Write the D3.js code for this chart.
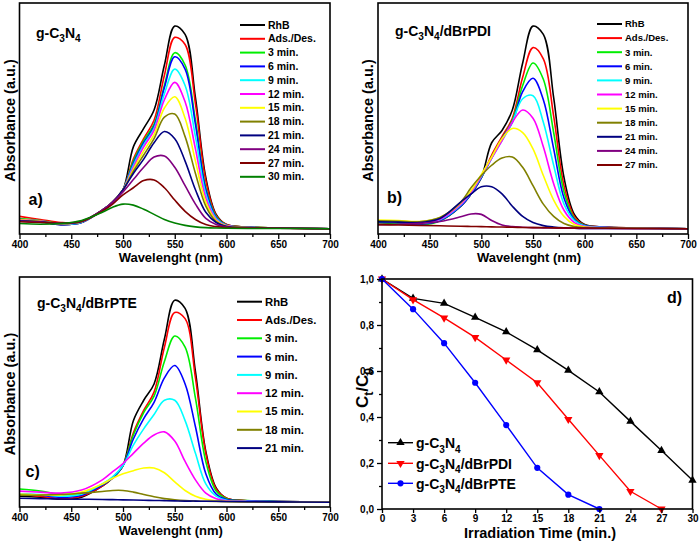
<!DOCTYPE html>
<html>
<head>
<meta charset="utf-8">
<script src="https://cdn.jsdelivr.net/npm/d3@7"></script>
<style>
  body { margin: 0; background: #fff; }
  svg { display: block; }
  text { font-family: "Liberation Sans", Arial, sans-serif; font-weight: bold; fill: #000; }
</style>
</head>
<body>
<svg id="chart" width="700" height="545"></svg>
<script>
// ---- data ----
const wavelengths = [400, 420, 440, 460, 480, 490, 500, 510, 520, 530, 540, 550, 560, 570, 580, 590, 600, 620, 650, 700];
const waveTicks = [400, 450, 500, 550, 600, 650, 700];
const waveMinor = [425, 475, 525, 575, 625, 675];

const labelsA = ["RhB", "Ads./Des.", "3 min.", "6 min.", "9 min.", "12 min.", "15 min.", "18 min.", "21 min.", "24 min.", "27 min.", "30 min."];
const specA = [
  [.045,.035,.020,.030,.090,.130,.190,.400,.490,.580,.800,.990,.950,.640,.250,.070,.020,.008,.004,0],
  [.060,.045,.030,.035,.090,.130,.190,.340,.440,.530,.750,.935,.900,.610,.235,.065,.020,.008,.004,0],
  [.050,.040,.025,.035,.090,.130,.190,.330,.430,.510,.700,.860,.800,.530,.200,.060,.018,.008,.004,0],
  [.045,.035,.020,.030,.090,.130,.190,.320,.420,.500,.690,.840,.780,.510,.190,.055,.017,.007,.004,0],
  [.040,.035,.022,.032,.090,.130,.190,.310,.410,.490,.660,.780,.700,.450,.170,.050,.016,.007,.004,0],
  [.045,.038,.024,.034,.090,.130,.190,.300,.400,.480,.630,.715,.620,.390,.150,.045,.015,.007,.004,0],
  [.042,.036,.024,.034,.090,.130,.190,.290,.380,.460,.590,.645,.540,.330,.130,.040,.013,.006,.003,0],
  [.040,.035,.025,.035,.090,.130,.190,.280,.360,.440,.545,.560,.450,.270,.110,.035,.012,.006,.003,0],
  [.038,.034,.025,.035,.090,.130,.190,.270,.340,.420,.475,.440,.330,.190,.080,.030,.010,.005,.003,0],
  [.036,.032,.026,.036,.090,.130,.180,.240,.300,.350,.355,.300,.210,.120,.050,.020,.008,.004,.002,0],
  [.034,.030,.027,.036,.085,.120,.165,.200,.235,.238,.200,.140,.085,.045,.020,.010,.005,.003,.002,0],
  [.025,.022,.025,.040,.080,.105,.120,.115,.095,.070,.045,.028,.016,.009,.005,.003,.002,.001,.001,0]
];

const labelsB = ["RhB", "Ads./Des.", "3 min.", "6 min.", "9 min.", "12 min.", "15 min.", "18 min.", "21 min.", "24 min.", "27 min."];
const specB = [
  [.030,.025,.020,.040,.110,.170,.250,.420,.480,.580,.810,.990,.950,.640,.250,.070,.020,.008,.004,0],
  [.035,.030,.022,.040,.110,.170,.250,.360,.450,.540,.740,.885,.830,.550,.210,.060,.018,.008,.004,0],
  [.030,.026,.018,.038,.110,.170,.250,.350,.440,.530,.700,.810,.730,.470,.180,.050,.017,.007,.004,0],
  [.034,.030,.022,.040,.110,.170,.250,.345,.440,.520,.670,.735,.630,.390,.150,.045,.015,.007,.004,0],
  [.036,.032,.026,.044,.115,.175,.255,.345,.430,.520,.635,.650,.520,.310,.120,.040,.013,.006,.003,0],
  [.038,.034,.028,.046,.118,.178,.258,.345,.430,.520,.580,.540,.400,.220,.090,.030,.010,.005,.003,0],
  [.042,.040,.035,.055,.125,.185,.265,.350,.440,.490,.470,.390,.260,.140,.060,.020,.008,.004,.002,0],
  [.038,.036,.034,.055,.130,.200,.260,.310,.345,.350,.300,.210,.120,.060,.025,.010,.005,.003,.002,0],
  [.034,.032,.030,.050,.130,.170,.205,.205,.170,.110,.060,.030,.015,.008,.004,.002,.001,.001,.001,0],
  [.020,.022,.026,.035,.058,.072,.070,.040,.018,.010,.007,.005,.004,.003,.002,.002,.001,.001,0,0],
  [.020,.018,.016,.014,.012,.011,.010,.009,.008,.007,.006,.005,.005,.004,.004,.003,.003,.002,.001,0]
];

const labelsC = ["RhB", "Ads./Des.", "3 min.", "6 min.", "9 min.", "12 min.", "15 min.", "18 min.", "21 min."];
const specC = [
  [.030,.025,.015,.025,.080,.120,.180,.400,.500,.580,.800,.990,.950,.640,.250,.070,.020,.008,.004,0],
  [.040,.030,.018,.030,.080,.120,.180,.340,.450,.540,.760,.930,.900,.610,.240,.065,.020,.008,.004,0],
  [.065,.055,.040,.040,.085,.120,.180,.330,.440,.520,.690,.815,.760,.510,.200,.055,.018,.008,.004,0],
  [.040,.035,.025,.035,.085,.120,.180,.310,.410,.490,.610,.670,.580,.370,.140,.040,.014,.007,.004,0],
  [.042,.038,.030,.040,.090,.125,.180,.280,.360,.430,.500,.500,.400,.240,.090,.030,.010,.005,.003,0],
  [.055,.050,.045,.060,.110,.150,.190,.240,.290,.330,.345,.300,.200,.110,.045,.018,.008,.004,.002,0],
  [.040,.036,.036,.050,.090,.118,.140,.155,.168,.168,.145,.100,.058,.030,.015,.008,.005,.003,.002,0],
  [.035,.035,.038,.045,.053,.058,.058,.050,.038,.027,.018,.012,.008,.006,.005,.004,.003,.002,.001,0],
  [.020,.018,.016,.015,.014,.013,.012,.011,.010,.009,.008,.007,.006,.006,.005,.005,.004,.003,.002,0]
];

const times = [0, 3, 6, 9, 12, 15, 18, 21, 24, 27, 30];
const timeTicks = [0, 3, 6, 9, 12, 15, 18, 21, 24, 27, 30];
const ratioTicks = [0, 0.2, 0.4, 0.6, 0.8, 1.0];
const ratioMinor = [0.1, 0.3, 0.5, 0.7, 0.9];
const ratioC3N4 = [1.0, 0.916, 0.894, 0.833, 0.77, 0.692, 0.603, 0.509, 0.381, 0.254, 0.125];
const ratioPDI = [1.0, 0.91, 0.831, 0.746, 0.648, 0.549, 0.39, 0.233, 0.077, 0.0];
const ratioPTE = [1.0, 0.869, 0.721, 0.549, 0.365, 0.179, 0.0625, 0.0];

const palette = ["#000000", "#ff0000", "#00ee00", "#0000ff", "#00ffff", "#ff00ff",
                 "#ffff00", "#808000", "#000080", "#800080", "#800000", "#008000"];

const svg = d3.select("#chart");
const FONT_TICK = 10;

// text with chemical subscripts: parts = [[text, isSub], ...]
function chem(sel, parts, size) {
  let sub = false;
  parts.forEach(([t, s]) => {
    const span = sel.append("tspan").text(t).style("font-size", (s ? size * 0.72 : size) + "px");
    if (s && !sub) span.attr("dy", size * 0.3);
    if (!s && sub) span.attr("dy", -size * 0.3);
    sub = s;
  });
  return sel;
}

function styleTicks(a) {
  a.select(".domain").remove();
  a.selectAll(".tick line").attr("stroke-width", 1.3);
  a.selectAll(".tick text")
    .style("font-size", FONT_TICK + "px")
    .style("font-family", '"Liberation Sans", Arial, sans-serif')
    .style("font-weight", "bold")
    .attr("fill", "#000");
}

function drawSpectra(p) {
  const x = d3.scaleLinear().domain([400, 700]).range([p.left, p.right]);
  const y = d3.scaleLinear().domain(p.yDomain).range([p.bottom, p.top]);
  const g = svg.append("g");

  svg.append("clipPath").attr("id", "clip" + p.name)
    .append("rect")
    .attr("x", p.left).attr("y", p.top)
    .attr("width", p.right - p.left).attr("height", p.bottom - p.top);

  const line = d3.line()
    .x((d, i) => x(wavelengths[i]))
    .y(d => y(d))
    .curve(d3.curveCatmullRom.alpha(0.5));

  g.append("g").attr("clip-path", `url(#clip${p.name})`)
    .selectAll("path")
    .data(p.data)
    .join("path")
    .attr("fill", "none")
    .attr("stroke", (d, i) => palette[i])
    .attr("stroke-width", 1.6)
    .attr("d", line);

  // minor ticks
  g.append("g")
    .attr("transform", `translate(0,${p.bottom})`)
    .call(d3.axisBottom(x).tickValues(waveMinor).tickSize(3).tickFormat(""))
    .call(styleTicks);

  // major ticks + labels
  g.append("g")
    .attr("transform", `translate(0,${p.bottom})`)
    .call(d3.axisBottom(x).tickValues(waveTicks).tickSize(5).tickPadding(2))
    .call(styleTicks);

  // frame
  g.append("rect")
    .attr("x", p.left).attr("y", p.top)
    .attr("width", p.right - p.left).attr("height", p.bottom - p.top)
    .attr("fill", "none").attr("stroke", "#000").attr("stroke-width", 1.6);

  // axis titles
  g.append("text")
    .attr("x", (p.left + p.right) / 2 - 4)
    .attr("y", p.bottom + 28)
    .attr("text-anchor", "middle")
    .style("font-size", "13px")
    .text("Wavelenght (nm)");

  g.append("text")
    .attr("transform", `translate(${p.left - 5},${(p.top + p.bottom) / 2 + 2}) rotate(-90)`)
    .attr("text-anchor", "middle")
    .style("font-size", "14.5px")
    .text("Absorbance (a.u.)");

  // sample name
  chem(g.append("text").attr("x", p.titleX).attr("y", p.titleY),
       p.title, 14);

  // panel letter
  g.append("text")
    .attr("x", p.left + p.letterDx).attr("y", p.letterY)
    .style("font-size", "16px")
    .text(p.letter);

  // legend
  const leg = g.append("g");
  p.labels.forEach((name, i) => {
    const ly = p.legY + i * p.legDy;
    leg.append("line")
      .attr("x1", p.legX).attr("x2", p.legX + 25)
      .attr("y1", ly).attr("y2", ly)
      .attr("stroke", palette[i]).attr("stroke-width", 2);
    leg.append("text")
      .attr("x", p.legX + 28).attr("y", ly)
      .attr("dy", "0.35em")
      .style("font-size", p.legFont + "px")
      .text(name);
  });
}

drawSpectra({
  name: "a", left: 19.5, right: 330, top: 3, bottom: 234,
  yDomain: [-0.026, 1.103], data: specA, labels: labelsA,
  title: [["g-C", false], ["3", true], ["N", false], ["4", true]],
  titleX: 36, titleY: 38, letter: "a)", letterDx: 9, letterY: 205,
  legX: 240, legY: 25, legDy: 13.8, legFont: 10.5
});

drawSpectra({
  name: "b", left: 378, right: 688, top: 3, bottom: 234,
  yDomain: [-0.026, 1.103], data: specB, labels: labelsB,
  title: [["g-C", false], ["3", true], ["N", false], ["4", true], ["/dBrPDI", false]],
  titleX: 395, titleY: 36, letter: "b)", letterDx: 9, letterY: 203,
  legX: 597, legY: 24, legDy: 14.1, legFont: 9.5
});

drawSpectra({
  name: "c", left: 19.5, right: 330, top: 277, bottom: 507,
  yDomain: [-0.023, 1.104], data: specC, labels: labelsC,
  title: [["g-C", false], ["3", true], ["N", false], ["4", true], ["/dBrPTE", false]],
  titleX: 37, titleY: 308, letter: "c)", letterDx: 6, letterY: 477,
  legX: 237, legY: 301.7, legDy: 18.3, legFont: 11.3
});

// ---- panel d: Ct/C0 vs time ----
(function () {
  const left = 382, right = 692.5, top = 279, bottom = 509;
  const x = d3.scaleLinear().domain([0, 30]).range([left, right]);
  const y = d3.scaleLinear().domain([0, 1]).range([bottom, top]);
  const g = svg.append("g");
  const comma = d3.formatLocale({ decimal: ",", thousands: ".", grouping: [3], currency: ["", ""] }).format(".1f");

  const series = [
    { values: ratioC3N4, color: "#000000", symbol: d3.symbolTriangle, rot: 0, size: 30,
      name: [["g-C", false], ["3", true], ["N", false], ["4", true]] },
    { values: ratioPDI, color: "#ff0000", symbol: d3.symbolTriangle, rot: 180, size: 30,
      name: [["g-C", false], ["3", true], ["N", false], ["4", true], ["/dBrPDI", false]] },
    { values: ratioPTE, color: "#0000ff", symbol: d3.symbolCircle, rot: 0, size: 30,
      name: [["g-C", false], ["3", true], ["N", false], ["4", true], ["/dBrPTE", false]] }
  ];

  const line = d3.line().x((d, i) => x(times[i])).y(d => y(d));

  series.forEach(s => {
    g.append("path")
      .attr("d", line(s.values))
      .attr("fill", "none").attr("stroke", s.color).attr("stroke-width", 1.4);
    g.selectAll(null)
      .data(s.values)
      .join("path")
      .attr("transform", (d, i) => `translate(${x(times[i])},${y(d)}) rotate(${s.rot})`)
      .attr("d", d3.symbol().type(s.symbol).size(s.size))
      .attr("fill", s.color);
  });

  g.append("g")
    .attr("transform", `translate(0,${bottom})`)
    .call(d3.axisBottom(x).tickValues(timeTicks).tickSize(4).tickPadding(2))
    .call(styleTicks);

  g.append("g")
    .attr("transform", `translate(${left},0)`)
    .call(d3.axisLeft(y).tickValues(ratioMinor).tickSize(3).tickFormat(""))
    .call(styleTicks);

  g.append("g")
    .attr("transform", `translate(${left},0)`)
    .call(d3.axisLeft(y).tickValues(ratioTicks).tickSize(5).tickPadding(3).tickFormat(comma))
    .call(styleTicks);

  g.append("rect")
    .attr("x", left).attr("y", top)
    .attr("width", right - left).attr("height", bottom - top)
    .attr("fill", "none").attr("stroke", "#000").attr("stroke-width", 1.6);

  g.append("text")
    .attr("x", 540).attr("y", 538)
    .attr("text-anchor", "middle")
    .style("font-size", "14.5px")
    .text("Irradiation Time (min.)");

  chem(g.append("text")
    .attr("transform", `translate(368,${(top + bottom) / 2 - 6}) rotate(-90)`)
    .attr("text-anchor", "middle"),
    [["C", false], ["t", true], ["/C", false], ["0", true]], 17);

  g.append("text")
    .attr("x", 667).attr("y", 303)
    .style("font-size", "16px")
    .text("d)");

  const legY = [442.7, 463.3, 483.3];
  series.forEach((s, i) => {
    g.append("line")
      .attr("x1", 388).attr("x2", 413)
      .attr("y1", legY[i]).attr("y2", legY[i])
      .attr("stroke", s.color).attr("stroke-width", 1.4);
    g.append("path")
      .attr("transform", `translate(400.5,${legY[i]}) rotate(${s.rot})`)
      .attr("d", d3.symbol().type(s.symbol).size(s.size))
      .attr("fill", s.color);
    chem(g.append("text").attr("x", 416).attr("y", legY[i]).attr("dy", "0.35em"),
         s.name, 14);
  });
})();
</script>
</body>
</html>
